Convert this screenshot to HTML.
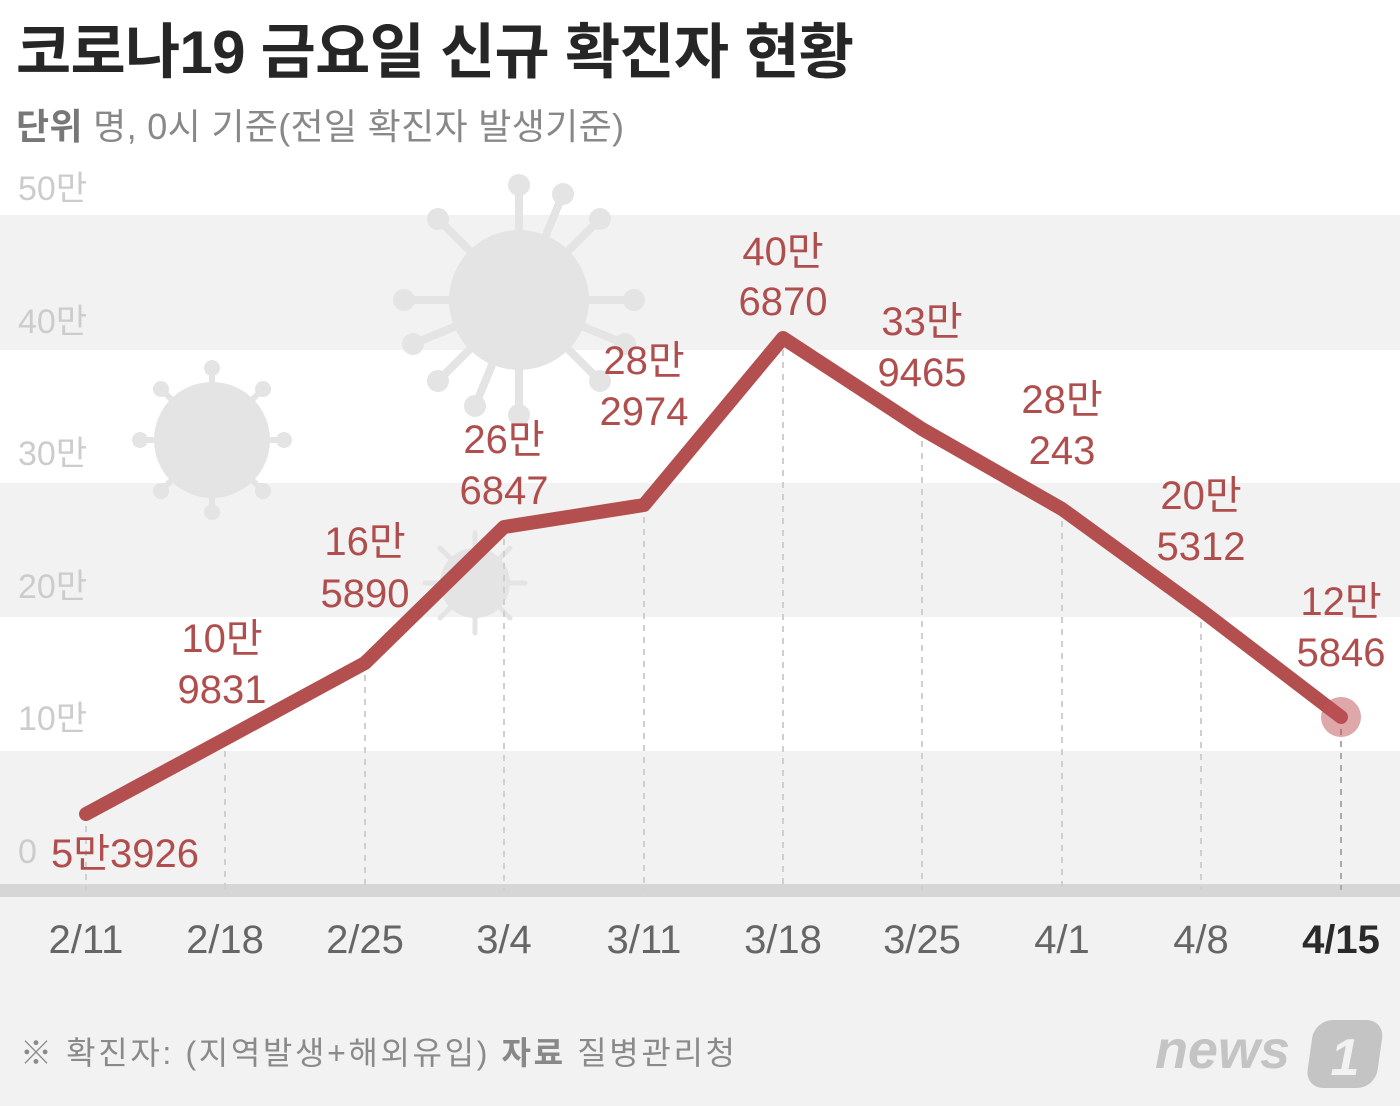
<!DOCTYPE html>
<html><head><meta charset="utf-8"><style>
body{margin:0;background:#fff}
svg{display:block}
text{font-family:"Liberation Sans","Noto Sans CJK KR",sans-serif}
</style></head><body>
<svg width="1400" height="1106" viewBox="0 0 1400 1106" xmlns="http://www.w3.org/2000/svg">
<rect x="0" y="0" width="1400" height="1106" fill="#fff"/>
<rect x="0" y="215" width="1400" height="135" fill="#f2f2f2"/>
<rect x="0" y="483" width="1400" height="134" fill="#f2f2f2"/>
<rect x="0" y="751" width="1400" height="133" fill="#f2f2f2"/>
<rect x="0" y="897" width="1400" height="209" fill="#f2f2f2"/>
<rect x="0" y="884" width="1400" height="13" fill="#d6d6d6"/>
<g fill="#e4e4e4" stroke="#e4e4e4" stroke-linecap="round">
<g transform="translate(519,300)">
<circle r="70" stroke="none"/>
<g stroke-width="8">
<line x1="0" y1="0" x2="0" y2="-115"/><line x1="0" y1="0" x2="0" y2="115"/>
<line x1="0" y1="0" x2="115" y2="0"/><line x1="0" y1="0" x2="-115" y2="0"/>
<line x1="0" y1="0" x2="81" y2="-81"/><line x1="0" y1="0" x2="-81" y2="81"/>
<line x1="0" y1="0" x2="81" y2="81"/><line x1="0" y1="0" x2="-81" y2="-81"/>
<line x1="0" y1="0" x2="44" y2="-106"/><line x1="0" y1="0" x2="-106" y2="44"/>
<line x1="0" y1="0" x2="106" y2="44"/><line x1="0" y1="0" x2="-44" y2="106"/>
</g>
<circle cx="0" cy="-115" r="11" stroke="none"/><circle cx="0" cy="115" r="11" stroke="none"/>
<circle cx="115" cy="0" r="11" stroke="none"/><circle cx="-115" cy="0" r="11" stroke="none"/>
<circle cx="81" cy="-81" r="11" stroke="none"/><circle cx="-81" cy="81" r="11" stroke="none"/>
<circle cx="81" cy="81" r="11" stroke="none"/><circle cx="-81" cy="-81" r="11" stroke="none"/>
<circle cx="44" cy="-106" r="11" stroke="none"/><circle cx="-106" cy="44" r="11" stroke="none"/>
<circle cx="106" cy="44" r="11" stroke="none"/><circle cx="-44" cy="106" r="11" stroke="none"/>
</g>
<g transform="translate(212,440)">
<circle r="58" stroke="none"/>
<g stroke-width="6">
<line x2="0" y2="-72"/><line x2="0" y2="72"/><line x2="72" y2="0"/><line x2="-72" y2="0"/>
<line x2="51" y2="-51"/><line x2="-51" y2="51"/><line x2="51" y2="51"/><line x2="-51" y2="-51"/>
</g>
<circle cy="-72" r="8" stroke="none"/><circle cy="72" r="8" stroke="none"/><circle cx="72" r="8" stroke="none"/><circle cx="-72" r="8" stroke="none"/>
<circle cx="51" cy="-51" r="8" stroke="none"/><circle cx="-51" cy="51" r="8" stroke="none"/><circle cx="51" cy="51" r="8" stroke="none"/><circle cx="-51" cy="-51" r="8" stroke="none"/>
</g>
<g transform="translate(475,583)">
<circle r="35" stroke="none"/>
<g stroke-width="5">
<line x2="0" y2="-50"/><line x2="0" y2="50"/><line x2="50" y2="0"/><line x2="-50" y2="0"/>
<line x2="35" y2="-35"/><line x2="-35" y2="35"/><line x2="35" y2="35"/><line x2="-35" y2="-35"/>
</g>
</g>
</g>
<g stroke="#cfcfcf" stroke-width="2" stroke-dasharray="6,6">
<line x1="86" y1="814" x2="86" y2="890"/>
<line x1="225" y1="739" x2="225" y2="890"/>
<line x1="365" y1="663" x2="365" y2="890"/>
<line x1="504" y1="527" x2="504" y2="890"/>
<line x1="644" y1="505" x2="644" y2="890"/>
<line x1="783" y1="338" x2="783" y2="890"/>
<line x1="922" y1="429" x2="922" y2="890"/>
<line x1="1062" y1="509" x2="1062" y2="890"/>
<line x1="1201" y1="610" x2="1201" y2="890"/>
<line x1="1341" y1="717" x2="1341" y2="890" stroke="#aaa"/>
</g>
<g fill="#cccccc" font-size="34">
<text x="18" y="200">50만</text><text x="18" y="333">40만</text><text x="18" y="465">30만</text>
<text x="18" y="598">20만</text><text x="18" y="730">10만</text><text x="18" y="863">0</text>
</g>
<polyline points="86,814 225,739 365,663 504,527 644,505 783,338 922,429 1062,509 1201,610 1341,717" fill="none" stroke="#b44f4f" stroke-width="14" stroke-linejoin="round" stroke-linecap="round"/>
<circle cx="1341" cy="717" r="20" fill="rgba(190,80,85,0.5)"/>
<g fill="#b04e4e" font-size="40" text-anchor="middle">
<text x="125" y="867">5만3926</text>
<text x="222" y="652">10만</text><text x="222" y="703">9831</text>
<text x="365" y="555">16만</text><text x="365" y="607">5890</text>
<text x="504" y="453">26만</text><text x="504" y="504">6847</text>
<text x="644" y="374">28만</text><text x="644" y="425">2974</text>
<text x="783" y="265">40만</text><text x="783" y="315">6870</text>
<text x="922" y="335">33만</text><text x="922" y="386">9465</text>
<text x="1062" y="413">28만</text><text x="1062" y="464">243</text>
<text x="1201" y="509">20만</text><text x="1201" y="560">5312</text>
<text x="1341" y="615">12만</text><text x="1341" y="666">5846</text>
</g>
<g fill="#666" font-size="40" text-anchor="middle">
<text x="86" y="953">2/11</text><text x="225" y="953">2/18</text><text x="365" y="953">2/25</text>
<text x="504" y="953">3/4</text><text x="644" y="953">3/11</text><text x="783" y="953">3/18</text>
<text x="922" y="953">3/25</text><text x="1062" y="953">4/1</text><text x="1201" y="953">4/8</text>
<text x="1341" y="953" fill="#2a2a2a" font-weight="bold">4/15</text>
</g>
<text x="16" y="73" font-size="60" font-weight="bold" fill="#262626" textLength="838" lengthAdjust="spacing">코로나19 금요일 신규 확진자 현황</text>
<text x="16" y="139" font-size="36" fill="#888" textLength="608" lengthAdjust="spacing"><tspan font-weight="bold" fill="#777">단위</tspan> 명, 0시 기준(전일 확진자 발생기준)</text>
<text x="20" y="1064" font-size="32" fill="#8a8a8a" textLength="715" lengthAdjust="spacing">※ 확진자: (지역발생+해외유입)  <tspan font-weight="bold" fill="#888">자료</tspan> 질병관리청</text>
<text x="1290" y="1068" font-size="54" font-weight="bold" font-style="italic" fill="#c4c4c4" text-anchor="end">news</text>
<rect x="1308" y="1020" width="70" height="68" rx="18" fill="#c4c4c4" transform="skewX(-8) translate(150,0)"/>
<text x="1345" y="1075" font-size="52" font-weight="bold" font-style="italic" fill="#f2f2f2" text-anchor="middle">1</text>
</svg>
</body></html>
